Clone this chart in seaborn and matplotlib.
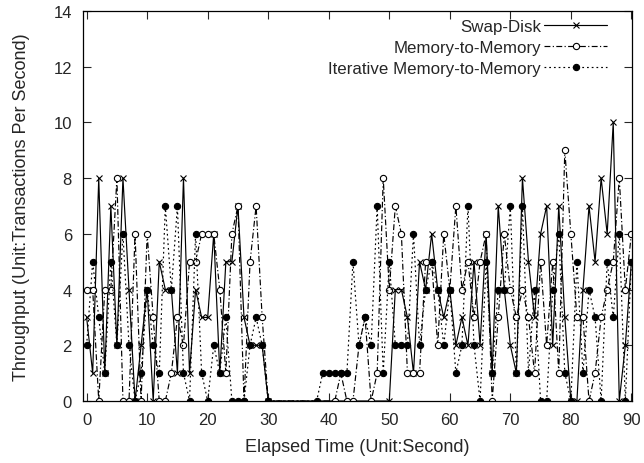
import numpy as np
import pandas as pd
import matplotlib
matplotlib.use("Agg")
import matplotlib.pyplot as plt
import seaborn as sns

N = None
seconds = list(range(0, 91))

swap_disk = [3, 1, 8, 1, 7, 2, 8, 4, 0, 2,
             4, 0, 5, 4, 4, 1, 8, 1, 4, 3,
             3, 6, 1, 5, 5, 7, 3, 2, 2, 2,
             0, N, N, N, N, N, N, N, N, N,
             N, N, N, N, N, N, N, N, N, N,
             0, 4, 4, 3, 1, 5, 4, 6, 4, 3,
             4, 2, 3, 2, 5, 2, 6, 1, 7, 4,
             2, 1, 8, 5, 3, 6, 7, 2, 7, 3,
             0, 0, 4, 7, 5, 8, 6, 10, 0, 2,
             5]

mem_to_mem = [4, 4, 0, 4, 4, 8, 0, 0, 6, 0,
              6, 3, 0, 0, 1, 3, 2, 5, 5, 6,
              6, 6, 4, 1, 6, 7, 0, 5, 7, 3,
              0, N, N, N, N, N, N, N, N, N,
              N, 0, 1, 0, 0, 2, 3, 0, 1, 8,
              4, 7, 6, 1, 1, 1, 5, 5, 2, 6,
              4, 7, 4, 5, 3, 5, 6, 0, 3, 6,
              4, 3, 4, 3, 1, 5, 2, 5, 1, 9,
              6, 3, 3, 0, 1, 3, 4, 5, 8, 4,
              6]

iter_mem = [2, 5, 3, 1, 5, 2, 6, 2, 0, 1,
            4, 2, 1, 7, 4, 7, 1, 0, 6, 1,
            0, 2, 1, 3, 0, 0, 0, 2, 3, 2,
            0, N, N, N, N, N, N, N, 0, 1,
            1, 1, 1, 1, 5, 2, 3, 2, 7, 1,
            5, 2, 2, 2, 6, 2, 4, 5, 4, 2,
            4, 1, 2, 7, 2, 0, 5, 1, 4, 4,
            7, 1, 7, 1, 4, 0, 0, 4, 6, 1,
            0, 5, 1, 4, 3, 0, 5, 3, 6, 0,
            5]

labels = ["Swap-Disk", "Memory-to-Memory", "Iterative Memory-to-Memory"]

sns.set_style("ticks")
plt.rcParams['font.family'] = ['Liberation Sans', 'DejaVu Sans']
plt.rcParams['xtick.direction'] = 'in'
plt.rcParams['ytick.direction'] = 'in'

fig = plt.figure(figsize=(6.44, 4.64), dpi=100)
ax = fig.add_axes([83 / 644, 1 - 402 / 464, 549 / 644, 390 / 464])

def frame(vals):
    return pd.DataFrame({"t": seconds, "v": vals}).dropna()

styles = [
    dict(linestyle="-", marker="x", markersize=5, markeredgewidth=0.8,
         markerfacecolor="black"),
    dict(linestyle=(0, (5, 2, 1, 2)), marker="o", markersize=4.5,
         markerfacecolor="white", markeredgewidth=0.8),
    dict(linestyle=(0, (1.5, 2.5)), marker="o", markersize=4.5,
         markerfacecolor="black", markeredgewidth=0.8),
]

for vals, lab, st in zip([swap_disk, mem_to_mem, iter_mem], labels, styles):
    df = frame(vals)
    sns.lineplot(data=df, x="t", y="v", ax=ax, color="black", linewidth=0.85,
                 markeredgecolor="black", label=lab, **st)

ax.set_xlim(-0.6, 90.1)
ax.set_ylim(0, 14)
ax.set_xticks(range(0, 91, 10))
ax.set_yticks(range(0, 15, 2))
ax.tick_params(axis="both", which="both", direction="in", length=6,
               top=True, right=True, labelsize=12, width=0.8, pad=8)
for s in ax.spines.values():
    s.set_linewidth(0.9)
    s.set_color("black")
ax.set_xlabel("Elapsed Time (Unit:Second)", fontsize=13, labelpad=8)
ax.set_ylabel("Throughput (Unit:Transactions Per Second)", fontsize=13, labelpad=17)

leg = ax.legend(loc="upper right", bbox_to_anchor=(0.967, 0.997),
                frameon=False, markerfirst=False, borderaxespad=0,
                fontsize=12.2, handlelength=3.7, handletextpad=0.2,
                labelspacing=0.35)

fig.savefig("out.png", dpi=100)
